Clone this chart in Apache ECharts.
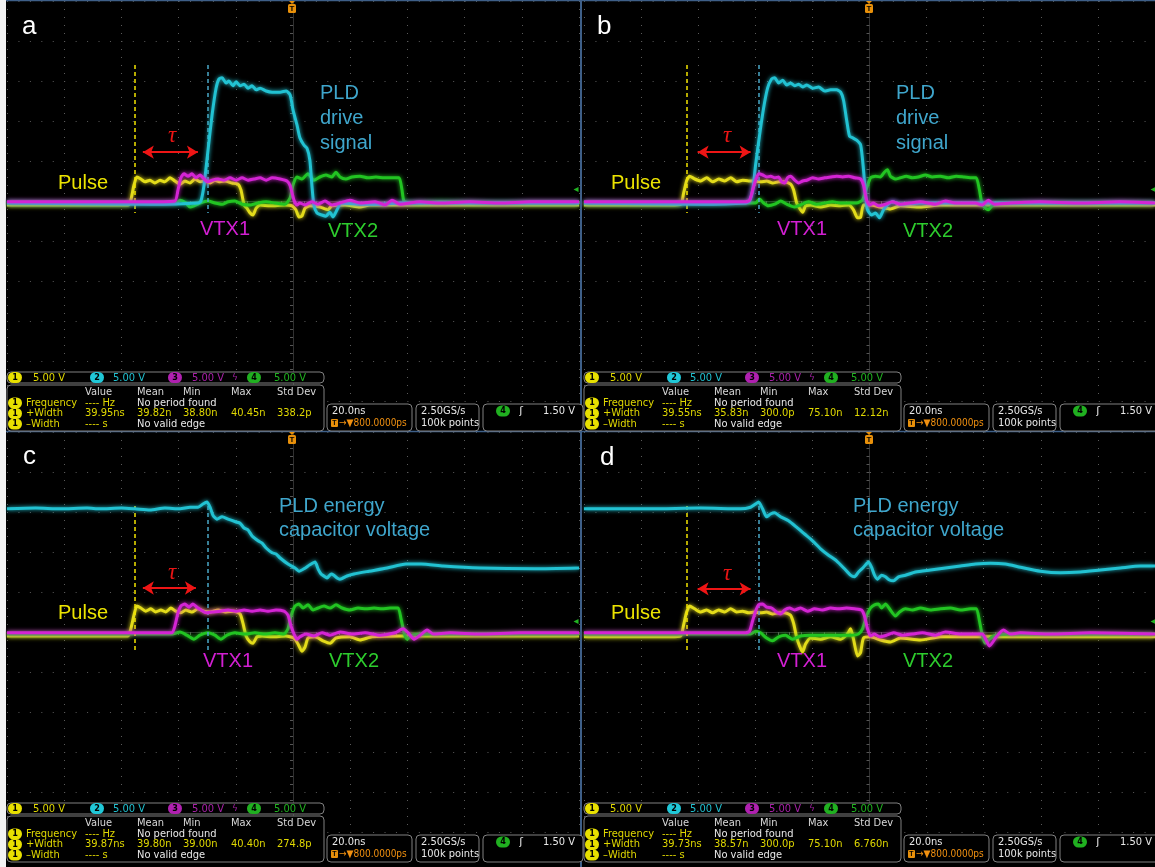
<!DOCTYPE html>
<html>
<head>
<meta charset="utf-8">
<script src="https://cdn.jsdelivr.net/npm/echarts@6/dist/echarts.min.js"></script>
<style>
html, body { margin: 0; padding: 0; background: #fff; }
#main { width: 1155px; height: 867px; }
</style>
</head>
<body>
<div id="main"></div>
<script>
// 4 scope captures, 20 ns/div, 5 V/div, [time ns, volt V]

// ---- a ----
var pulseA = [[-100,-0.5],[-81.5,-0.5],[-67.5,-0.5],[-57.7,-0.5],[-56.7,0.1],[-55.6,2.0],[-54.6,3.0],[-53.2,2.75],[-51.8,2.4],[-50.0,2.6],[-48.3,2.25],[-46.5,2.6],[-44.8,2.4],[-43.0,2.9],[-41.3,2.5],[-39.5,2.1],[-37.8,2.5],[-36.0,2.25],[-34.3,2.75],[-32.5,2.4],[-30.8,2.5],[-29.0,2.25],[-27.3,2.6],[-25.5,2.4],[-23.8,2.5],[-21.3,2.25],[-19.2,2.1],[-18.2,1.4],[-17.1,-0.5],[-16.1,-0.9],[-15.0,-1.5],[-14.0,-1.75],[-12.9,-0.9],[-11.5,-0.5],[-8.0,-0.6],[-2.8,-0.5],[-0.3,-0.6],[1.0,-1.1],[2.1,-2.0],[3.1,-1.9],[4.2,-0.9],[5.9,-0.6],[9.4,-0.75],[12.2,-1.1],[13.6,-0.6],[18.2,-0.5],[23.4,-0.75],[26.9,-0.5],[37.4,-0.5],[100,-0.5]];
var vtx1A = [[-100,-0.1],[-67.5,-0.1],[-50,-0.1],[-41.3,0],[-40.2,1.4],[-39.2,2.9],[-38.1,3.4],[-36.7,3.1],[-35.3,3.4],[-33.9,2.9],[-32.5,3.25],[-31.1,2.75],[-29.7,2.4],[-28.3,2.6],[-26.2,2.75],[-24.1,2.6],[-22.0,2.9],[-19.9,2.6],[-17.8,2.9],[-15.7,2.6],[-13.6,2.75],[-11.5,2.9],[-9.4,2.6],[-7.3,2.9],[-4.5,2.75],[-2.1,2.5],[-1.0,1.9],[0.35,0.1],[1.4,-0.5],[2.4,-0.25],[4.2,-0.5],[6.6,-0.1],[8.7,-0.4],[11.2,0],[13.6,-0.5],[16.4,-0.25],[19.9,0.1],[23.4,-0.25],[28.7,-0.1],[32.2,-0.5],[34.6,0.1],[37.4,-0.4],[44.4,-0.1],[51.4,-0.25],[61.9,-0.1],[72.4,-0.25],[82.9,-0.1],[100,-0.1]];
var vtx2A = [[-100,-0.25],[-40.9,-0.25],[-39.5,0.1],[-37.4,-0.25],[-36.0,-0.75],[-34.6,-0.6],[-32.5,-0.25],[-29.7,0],[-27.3,-0.25],[-24.8,-0.4],[-22.7,-0.1],[-20.3,0],[-17.8,-0.4],[-15.0,-0.5],[-12.2,-0.25],[-9.4,-0.1],[-6.3,-0.25],[-2.8,-0.4],[-1.0,0.4],[0,2.0],[1.4,3.0],[3.1,2.75],[5.2,3.4],[7.3,2.6],[9.4,3.0],[11.5,3.25],[13.6,3.0],[15.0,3.6],[16.4,3.0],[18.5,2.75],[20.6,3.0],[23.4,3.1],[26.2,2.9],[29.0,3.0],[31.8,2.9],[34.6,2.9],[37.1,2.9],[38.1,1.4],[38.8,0],[40.9,-0.25],[51.4,-0.1],[72.4,-0.25],[100,-0.25]];
var pldA = [[-100,-0.25],[-50,-0.4],[-33.2,-0.25],[-32.2,0],[-31.1,2.0],[-29.7,6.4],[-28.3,10.75],[-26.9,14.1],[-25.9,15.25],[-24.8,15.4],[-23.4,14.75],[-22.4,15.0],[-21.0,14.4],[-19.9,14.9],[-18.5,14.4],[-17.1,14.6],[-15.7,14.1],[-14.3,14.4],[-12.9,13.9],[-11.5,14.1],[-9.4,13.75],[-7.3,13.6],[-4.5,13.6],[-2.4,13.75],[-1.0,13.25],[0,11.4],[1.4,9.5],[2.4,7.9],[3.8,7.0],[4.9,6.6],[5.9,5.1],[6.6,2.0],[7.3,-0.5],[8.4,-1.5],[10.1,-1.75],[11.5,-1.9],[12.9,-1.4],[14.0,-2.0],[15.4,-1.1],[16.8,-0.25],[23.4,-0.4],[30.4,-0.4],[37.4,-0.25],[54.9,-0.25],[72.4,-0.25],[100,-0.25]];

// ---- b ----
var pulseB = [[-100,-0.5],[-69.7,-0.5],[-66.1,-0.4],[-65.1,1.0],[-64.0,2.6],[-63.0,3.1],[-61.2,2.75],[-59.1,2.5],[-57.0,2.9],[-54.9,2.4],[-52.8,2.75],[-50.7,2.5],[-48.6,2.9],[-46.5,2.4],[-44.4,2.6],[-42.3,2.5],[-40.2,2.5],[-38.1,2.4],[-36.0,2.5],[-33.9,2.25],[-31.8,2.4],[-29.7,2.4],[-27.6,2.1],[-26.6,1.4],[-25.5,-0.25],[-24.5,-0.9],[-23.4,-1.4],[-22.4,-0.6],[-20.6,-0.5],[-17.1,-0.75],[-13.6,-0.5],[-10.1,-0.6],[-7.3,-0.5],[-5.6,-1.1],[-4.2,-2.1],[-3.1,-2.0],[-2.1,-0.5],[0.35,-0.5],[3.8,-0.75],[7.3,-1.0],[10.8,-0.6],[17.8,-0.75],[24.8,-0.5],[45.8,-0.5],[100,-0.5]];
var vtx1B = [[-100,-0.1],[-59.1,-0.1],[-43.4,-0.1],[-42.0,0.1],[-40.9,1.4],[-39.9,2.6],[-38.8,3.4],[-37.4,3.25],[-36.0,3.0],[-34.6,3.1],[-33.2,2.9],[-31.8,3.0],[-30.8,2.4],[-29.7,2.25],[-28.7,2.9],[-27.6,3.1],[-26.2,2.6],[-24.8,2.25],[-23.4,2.5],[-22.0,2.6],[-19.9,2.9],[-17.8,2.75],[-15.7,2.9],[-13.6,3.0],[-11.5,3.1],[-9.4,3.0],[-7.3,3.1],[-5.2,2.9],[-3.1,2.75],[-2.1,2.0],[-1.0,0.1],[0,-0.5],[1.4,-0.25],[3.1,-0.6],[5.6,-0.4],[8.0,-0.1],[10.8,-0.4],[14.3,-0.25],[17.8,-0.1],[23.1,-0.4],[26.6,0],[30.1,-0.25],[37.1,-0.25],[39.5,-0.5],[41.6,0.1],[43.7,-0.4],[49.3,-0.25],[59.8,-0.1],[73.8,-0.25],[87.8,-0.1],[100,-0.25]];
var vtx2B = [[-100,-0.25],[-39.9,-0.25],[-38.5,0.25],[-37.1,-0.25],[-35.4,-0.6],[-33.2,-0.4],[-31.1,0],[-29.0,-0.4],[-26.2,-0.75],[-24.2,-0.5],[-21.4,-0.1],[-18.6,-0.4],[-15.7,-0.25],[-13.0,-0.1],[-10.1,-0.25],[-7.3,-0.25],[-4.5,-0.25],[-2.5,0.1],[-1.0,1.6],[0.35,2.9],[2.1,3.1],[3.8,3.0],[5.2,3.6],[6.3,3.9],[7.3,3.1],[9.1,2.75],[10.8,2.9],[12.9,3.1],[15.0,2.9],[17.1,3.0],[19.6,3.25],[22.0,3.0],[24.8,3.1],[27.6,2.9],[30.4,3.1],[33.2,3.0],[36.0,2.9],[37.4,2.9],[38.5,1.4],[39.2,0],[40.2,-0.75],[41.6,-1.1],[43.4,-0.4],[45.8,-0.25],[100,-0.25]];
var pldB = [[-100,-0.25],[-59.1,-0.4],[-43.4,-0.25],[-42.0,0],[-40.9,1.4],[-39.9,4.5],[-38.5,8.25],[-37.1,11.6],[-35.7,14.1],[-34.3,15.25],[-33.2,15.4],[-31.8,14.75],[-30.4,15.1],[-29.0,14.5],[-27.6,14.75],[-26.2,14.4],[-24.8,14.6],[-23.4,14.25],[-22.0,14.5],[-19.9,14.1],[-17.8,14.25],[-15.7,13.75],[-13.6,13.9],[-11.5,13.9],[-10.1,13.6],[-9.1,12.6],[-8.0,10.1],[-7.0,8.1],[-5.9,7.9],[-4.5,7.6],[-3.1,7.0],[-2.1,3.9],[-1.4,0.75],[-0.7,-1.1],[0.7,-1.75],[2.1,-1.5],[3.5,-2.1],[4.9,-1.1],[6.3,-0.5],[8.0,-0.1],[10.8,-0.4],[17.8,-0.25],[45.8,-0.25],[100,-0.25]];

// ---- c ----
var pulseC = [[-100,-0.5],[-67.5,-0.5],[-57.7,-0.5],[-56.7,0.4],[-55.6,2.1],[-54.6,3.25],[-53.2,3.0],[-51.5,2.6],[-49.7,2.9],[-48.0,2.5],[-46.2,2.75],[-44.5,2.5],[-42.7,3.0],[-41.0,2.6],[-39.2,2.4],[-37.5,2.75],[-35.4,2.5],[-33.2,2.9],[-31.2,2.6],[-29.0,2.5],[-26.2,2.75],[-23.5,2.5],[-20.7,2.6],[-18.5,2.25],[-17.5,1.1],[-16.4,-0.5],[-15.0,-1.25],[-14.0,-1.4],[-12.6,-0.6],[-10.8,-0.5],[-7.3,-0.6],[-2.5,-0.5],[0.35,-0.75],[1.75,-1.5],[3.1,-2.4],[4.2,-1.9],[5.25,-0.75],[7.7,-0.6],[10.5,-1.1],[13.0,-1.4],[15.0,-0.75],[19.9,-0.6],[23.4,-1.0],[27.6,-0.6],[37.4,-0.5],[100,-0.5]];
var vtx1C = [[-100,-0.1],[-67.5,-0.1],[-50,-0.1],[-42.3,-0.1],[-41.3,0.75],[-40.2,2.4],[-39.2,3.25],[-37.8,3.5],[-36.4,3.1],[-35.0,3.5],[-33.6,3.1],[-32.2,2.75],[-30.4,2.4],[-28.3,2.5],[-25.5,2.6],[-22.7,2.75],[-19.9,2.6],[-17.1,2.75],[-14.3,2.6],[-11.5,2.75],[-8.75,2.6],[-5.95,2.75],[-3.15,2.6],[-1.75,2.1],[-0.7,0.75],[0.35,-0.25],[1.4,-0.9],[2.45,-0.6],[4.55,-0.25],[7.35,-0.5],[10.15,-0.1],[12.95,-0.4],[16.45,0],[20.65,-0.25],[25.2,-0.1],[30.45,-0.4],[35.7,-0.1],[38.5,0.4],[40.25,-0.1],[42.35,-0.9],[44.45,-0.4],[46.9,0.25],[49.0,-0.25],[54.95,-0.1],[65.45,-0.25],[79.45,-0.1],[100,-0.1]];
var vtx2C = [[-100,-0.25],[-42.3,-0.25],[-39.5,0],[-37.1,-0.4],[-34.65,-0.9],[-32.55,-0.4],[-29.75,-0.1],[-27.3,-0.4],[-25.2,-0.9],[-23.1,-0.4],[-20.3,-0.1],[-16.8,-0.25],[-13.3,-0.1],[-9.8,-0.25],[-6.3,-0.1],[-3.15,-0.25],[-1.75,0.4],[-0.7,2.0],[0.7,3.25],[2.1,3.5],[3.5,3.0],[5.25,3.4],[7.0,2.75],[8.75,3.0],[10.85,3.25],[12.95,3.0],[15.05,3.4],[17.15,3.0],[19.95,2.75],[22.75,3.0],[25.55,2.9],[28.35,3.0],[31.15,2.9],[33.95,3.0],[36.75,3.0],[37.8,1.6],[38.85,-0.1],[39.9,-0.9],[41.3,-0.4],[47.95,-0.25],[72.45,-0.25],[100,-0.25]];
var pldC = [[-100,15.4],[-90,15.5],[-81.5,15.4],[-72,15.5],[-67.5,15.4],[-60,15.5],[-55.3,15.4],[-50.0,15.25],[-44.8,15.5],[-39.5,15.4],[-36.0,15.6],[-33.2,15.6],[-31.5,16.0],[-30.1,16.25],[-29.0,15.6],[-28.0,14.6],[-26.6,14.1],[-24.8,14.4],[-22.7,14.1],[-19.9,13.75],[-18.5,13.6],[-17.1,13.0],[-15.7,12.75],[-14.3,12.0],[-12.2,11.4],[-10.8,11.1],[-9.4,10.5],[-7.3,9.9],[-5.9,9.75],[-4.5,9.25],[-1.75,8.5],[0.7,8.0],[2.1,7.6],[3.8,7.9],[5.9,8.4],[7.7,8.75],[8.75,7.9],[9.8,7.25],[10.8,7.0],[11.9,6.75],[13.3,7.25],[14.3,7.1],[15.4,6.75],[16.4,6.6],[18.9,7.0],[21.3,7.25],[26.6,7.6],[32.9,8.0],[39.5,8.5],[44.8,8.5],[52.5,8.25],[65.4,8.0],[84.7,7.9],[100,8.0]];

// ---- d ----
var pulseD = [[-100,-0.6],[-69.65,-0.6],[-66.15,-0.5],[-65.1,0.9],[-64.05,2.5],[-63.0,3.25],[-61.25,2.9],[-59.15,2.5],[-57.05,2.75],[-54.95,2.4],[-52.85,2.75],[-50.75,2.5],[-48.65,2.9],[-46.55,2.5],[-44.45,2.6],[-42.35,2.4],[-40.25,2.5],[-38.15,2.4],[-36.05,2.5],[-33.95,2.25],[-31.85,2.4],[-29.75,2.4],[-27.65,2.1],[-26.6,1.1],[-25.55,-0.6],[-24.5,-1.75],[-23.45,-2.5],[-22.4,-1.5],[-20.65,-0.75],[-17.15,-0.9],[-13.65,-0.6],[-10.15,-0.9],[-7.7,-0.25],[-6.65,0.4],[-5.6,-0.9],[-4.2,-3.0],[-3.15,-2.6],[-2.1,-0.75],[0.35,-0.6],[3.85,-1.0],[7.35,-1.25],[10.85,-0.75],[17.85,-1.0],[24.85,-0.6],[45.85,-0.6],[100,-0.6]];
var vtx1D = [[-100,-0.1],[-59.15,-0.1],[-43.4,-0.1],[-42.0,0.1],[-40.95,1.4],[-39.9,2.6],[-38.85,3.4],[-37.45,3.5],[-36.05,3.1],[-34.3,3.0],[-32.55,2.5],[-31.15,2.25],[-29.75,2.75],[-28.0,3.0],[-26.25,2.75],[-24.15,3.0],[-21.7,2.6],[-19.25,2.9],[-16.45,2.75],[-13.65,3.0],[-10.85,2.9],[-8.05,3.0],[-5.25,2.9],[-2.8,2.75],[-1.75,2.0],[-0.7,0.4],[0.35,-0.5],[1.75,-0.25],[3.5,-0.6],[5.95,-0.4],[8.4,-0.1],[11.55,-0.4],[15.05,-0.25],[18.55,-0.1],[23.1,-0.4],[26.6,0],[31.85,-0.25],[37.1,-0.25],[39.55,-0.25],[42.0,-1.75],[44.45,-0.6],[46.9,0.25],[49.35,-0.25],[52.85,-0.1],[63.35,-0.25],[77.35,-0.1],[100,-0.25]];
var vtx2D = [[-100,-0.25],[-41.65,-0.25],[-39.9,0.1],[-38.15,-0.1],[-36.05,-0.75],[-33.95,-1.1],[-31.85,-0.6],[-29.4,-0.4],[-26.95,-0.9],[-24.15,-0.5],[-20.65,-0.4],[-17.15,-0.4],[-13.65,-0.4],[-10.15,-0.4],[-6.65,-0.4],[-3.85,-0.25],[-2.45,0.4],[-1.05,2.0],[0.35,3.0],[1.75,3.4],[3.15,3.5],[4.2,3.0],[5.6,3.5],[7.0,2.9],[9.1,2.0],[10.5,2.5],[12.6,2.9],[15.05,2.75],[17.85,3.0],[21.35,2.75],[24.85,2.9],[28.35,3.0],[31.85,2.75],[35.35,2.9],[37.45,2.9],[38.5,1.4],[39.55,-0.5],[40.6,-1.4],[42.0,-0.9],[44.1,-0.4],[49.35,-0.25],[100,-0.25]];
var pldD = [[-100,15.4],[-76.65,15.4],[-59.15,15.5],[-45.15,15.4],[-41.65,15.6],[-39.9,16.0],[-38.85,16.25],[-37.45,15.4],[-36.05,14.4],[-34.65,14.75],[-33.25,14.9],[-31.15,14.4],[-28.35,13.9],[-25.55,13.1],[-22.75,12.25],[-19.95,11.4],[-17.15,10.4],[-14.35,9.6],[-11.55,8.9],[-8.75,7.9],[-6.65,7.1],[-5.25,6.9],[-3.85,7.5],[-2.1,8.1],[-0.35,8.75],[0.7,8.1],[1.75,7.1],[2.8,6.6],[4.2,7.1],[5.6,6.9],[7.0,6.5],[8.4,6.4],[10.15,6.9],[12.6,7.1],[16.1,7.5],[21.35,7.75],[26.6,8.0],[31.85,8.25],[37.1,8.5],[42.35,8.6],[47.6,8.5],[52.85,8.1],[59.85,7.6],[66.85,7.4],[73.85,7.5],[80.85,7.75],[87.85,8.0],[94.85,8.25],[100,8.25]];

// cursor times (ns): pulse edge, PLD edge, and tau arrow ends
var cursorT = { a: [-55.2, -29.7], b: [-64.05, -38.85], c: [-55.2, -29.7], d: [-64.05, -38.85] };
var tauT = { a: [-52.5, -33.25], b: [-60.2, -41.65], c: [-52.5, -33.95], d: [-60.2, -41.65] };
var tauV = { a: 6.1, b: 6.1, c: 5.5, d: 5.4 };
var cursorV = { a: [17, -1.5], b: [17, -1.5], c: [15.75, -2.6], d: [15.75, -2.6] };

var measHeads = ['Value', 'Mean', 'Min', 'Max', 'Std Dev'];
var widthStats = {
	a: ['39.95ns', '39.82n', '38.80n', '40.45n', '338.2p'],
	b: ['39.55ns', '35.83n', '300.0p', '75.10n', '12.12n'],
	c: ['39.87ns', '39.80n', '39.00n', '40.40n', '274.8p'],
	d: ['39.73ns', '38.57n', '300.0p', '75.10n', '6.760n']
};

var YEL = '#e3dc1a', CYA = '#22c2d2', MAG = '#d424d4', GRN = '#22c422';
var panels = ['a', 'b', 'c', 'd'];
var origin = { a: [0, 0], b: [577, 0], c: [0, 431], d: [577, 431] };
var traces = {
	a: [pulseA, vtx2A, pldA, vtx1A], b: [pulseB, vtx2B, pldB, vtx1B],
	c: [pulseC, vtx2C, pldC, vtx1C], d: [pulseD, vtx2D, pldD, vtx1D]
};
var traceColors = [YEL, GRN, CYA, MAG];

var myChart = echarts.init(document.getElementById('main'));

var grids = [], xAxes = [], yAxes = [], series = [];
panels.forEach(function (p, i) {
	var o = origin[p];
	grids.push({ left: 7 + o[0], top: 1 + o[1], width: 572, height: 400, show: false });
	xAxes.push({
		type: 'value', gridIndex: i, min: -100, max: 100, interval: 20,
		axisLabel: { show: false },
		axisLine: { show: true, onZero: true, lineStyle: { color: '#303030' } },
		axisTick: { show: true, length: 3, lineStyle: { color: '#555' } },
		minorTick: { show: true, splitNumber: 5, length: 3, lineStyle: { color: '#555' } },
		splitLine: { show: true, lineStyle: { color: '#5a5a5a', type: [1, 7] } }
	});
	yAxes.push({
		type: 'value', gridIndex: i, min: -25, max: 25, interval: 5,
		axisLabel: { show: false },
		axisLine: { show: true, onZero: true, lineStyle: { color: '#303030' } },
		axisTick: { show: true, length: 3, lineStyle: { color: '#555' } },
		minorTick: { show: true, splitNumber: 5, length: 3, lineStyle: { color: '#555' } },
		splitLine: { show: true, lineStyle: { color: '#5a5a5a', type: [1, 10.44] } }
	});
	traces[p].forEach(function (d, k) {
		var s = {
			type: 'line', xAxisIndex: i, yAxisIndex: i, data: d,
			symbol: 'none', smooth: 0.2, silent: true, z: 3 + k,
			lineStyle: { color: traceColors[k], width: 3, shadowColor: traceColors[k], shadowBlur: 4 }
		};
		if (k === 0) {
			s.markLine = {
				silent: true, symbol: 'none', animation: false, label: { show: false },
				data: [
					[{ coord: [cursorT[p][0], cursorV[p][0]], lineStyle: { color: '#f2e400', type: [4, 3], width: 1.5 } }, { coord: [cursorT[p][0], cursorV[p][1]] }],
					[{ coord: [cursorT[p][1], cursorV[p][0]], lineStyle: { color: '#4aa8c8', type: [4, 3], width: 1.5 } }, { coord: [cursorT[p][1], cursorV[p][1]] }]
				]
			};
		}
		if (k === 1) {
			s.markLine = {
				silent: true, symbol: ['arrow', 'arrow'], symbolSize: [10, 11], animation: false,
				label: { show: false }, lineStyle: { color: '#ee1515', width: 2, type: 'solid' },
				data: [[{ coord: [tauT[p][0], tauV[p]] }, { coord: [tauT[p][1], tauV[p]] }]]
			};
		}
		series.push(s);
	});
});

// ---- texts and scope status bars ----
var SF = '11px "Liberation Sans Narrow", "DejaVu Sans Condensed", "Arial Narrow", sans-serif';
var AF = '"Liberation Sans", Arial, sans-serif';
var els = [];
function txt(x, y, s, c, font, align) {
	els.push({ type: 'text', x: x, y: y, z: 100, silent: true,
		style: { text: s, fill: c, font: font || SF, align: align || 'left', textAlign: align || 'left', verticalAlign: 'middle', textVerticalAlign: 'middle' } });
}
function box(x, y, w, h) {
	els.push({ type: 'rect', z: 99, silent: true, shape: { x: x, y: y, width: w, height: h, r: 4 }, style: { fill: '#000', stroke: '#808080', lineWidth: 1 } });
}
function badge(x, y, n, c) {
	els.push({ type: 'rect', z: 100, silent: true, shape: { x: x - 7, y: y - 5.5, width: 14, height: 11, r: 5.5 }, style: { fill: c } });
	txt(x, y, n, '#000', 'bold 9px "DejaVu Sans Condensed", sans-serif', 'center');
}

els.push({ type: 'rect', z: 1, silent: true, shape: { x: 0, y: 0, width: 6, height: 867 }, style: { fill: '#f2f2f2' } });
els.push({ type: 'line', z: 98, silent: true, shape: { x1: 581, y1: 0, x2: 581, y2: 867 }, style: { stroke: '#3e5f88', lineWidth: 2 } });
els.push({ type: 'line', z: 98, silent: true, shape: { x1: 6, y1: 0.5, x2: 1155, y2: 0.5 }, style: { stroke: '#3e5f88', lineWidth: 1.5 } });
els.push({ type: 'line', z: 98, silent: true, shape: { x1: 6, y1: 431.5, x2: 1155, y2: 431.5 }, style: { stroke: '#3e5f88', lineWidth: 1.5 } });

panels.forEach(function (p) {
	var ox = origin[p][0], oy = origin[p][1], v = widthStats[p];
	// trigger position marker and trigger level
	els.push({ type: 'rect', z: 100, silent: true, shape: { x: ox + 288, y: oy + 4, width: 8, height: 9, r: 1.5 }, style: { fill: '#e8900a' } });
	txt(ox + 292, oy + 9, 'T', '#000', 'bold 8px sans-serif', 'center');
	els.push({ type: 'polygon', z: 100, silent: true, shape: { points: [[ox + 289, oy + 1], [ox + 295, oy + 1], [ox + 292, oy + 4]] }, style: { fill: '#e8900a' } });
	txt(ox + 576, oy + 189 + (oy ? 1 : 0), '◂', '#22b422', '10px "DejaVu Sans", sans-serif', 'center');

	// channel bar
	box(ox + 7, oy + 372, 317, 11);
	badge(ox + 15, oy + 377.5, '1', '#e8e000');
	txt(ox + 33, oy + 378, '5.00 V', '#e0d800');
	badge(ox + 97, oy + 377.5, '2', '#20c8d8');
	txt(ox + 113, oy + 378, '5.00 V', '#20c0d0');
	badge(ox + 175, oy + 377.5, '3', '#b020b0');
	txt(ox + 192, oy + 378, '5.00 V', '#a820a8');
	txt(ox + 235, oy + 378, 'ϟ', '#a020a0', '9px "DejaVu Sans", sans-serif', 'center');
	badge(ox + 254, oy + 377.5, '4', '#20b020');
	txt(ox + 274, oy + 378, '5.00 V', '#20b420');

	// measurement table
	box(ox + 7, oy + 385, 317, 46);
	var cols = [85, 137, 183, 231, 277];
	measHeads.forEach(function (h, j) { txt(ox + cols[j], oy + 392, h, '#d8d8d8'); });
	badge(ox + 15, oy + 403, '1', '#e8e000');
	badge(ox + 15, oy + 413.5, '1', '#e8e000');
	badge(ox + 15, oy + 424, '1', '#e8e000');
	txt(ox + 26, oy + 403, 'Frequency', '#e0d800');
	txt(ox + 26, oy + 413.5, '+Width', '#e0d800');
	txt(ox + 26, oy + 424, '\u2013Width', '#e0d800');
	txt(ox + 85, oy + 403, '---- Hz', '#e0d800');
	txt(ox + 137, oy + 403, 'No period found', '#e8e8e8');
	v.forEach(function (s, j) { txt(ox + cols[j], oy + 413.5, s, '#e0d800'); });
	txt(ox + 85, oy + 424, '---- s', '#e0d800');
	txt(ox + 137, oy + 424, 'No valid edge', '#e8e8e8');

	// timebase, sample rate, trigger
	box(ox + 327, oy + 404, 85, 27);
	txt(ox + 332, oy + 411, '20.0ns', '#e8e8e8');
	els.push({ type: 'rect', z: 100, silent: true, shape: { x: ox + 331, y: oy + 419, width: 7, height: 8, r: 1 }, style: { fill: '#e8900a' } });
	txt(ox + 334.5, oy + 423.5, 'T', '#000', 'bold 7px sans-serif', 'center');
	txt(ox + 339, oy + 423, '\u2192\u25BC800.0000ps', '#f09010', '10px "Liberation Sans Narrow", "DejaVu Sans Condensed", sans-serif');
	box(ox + 416, oy + 404, 63, 27);
	txt(ox + 421, oy + 411, '2.50GS/s', '#e8e8e8');
	txt(ox + 421, oy + 423, '100k points', '#e8e8e8');
	box(ox + 483, oy + 404, 100, 27);
	badge(ox + 503, oy + 411, '4', '#20b020');
	txt(ox + 521, oy + 411, '\u0283', '#e8e8e8', '11px "DejaVu Sans", sans-serif', 'center');
	txt(ox + 575, oy + 411, '1.50 V', '#e8e8e8', SF, 'right');
});

// annotations
var LBL = '20px ' + AF;
[['a', 22, 27], ['b', 597, 27], ['c', 23, 457], ['d', 600, 458]].forEach(function (l) {
	txt(l[1], l[2], l[0], '#ffffff', '26px ' + AF);
});
[[58, 183], [611, 183], [58, 613], [611, 613]].forEach(function (q) { txt(q[0], q[1], 'Pulse', '#ece400', LBL); });
[[200, 229], [777, 229], [203, 661], [777, 661]].forEach(function (q) { txt(q[0], q[1], 'VTX1', '#d21fd2', LBL); });
[[328, 231], [903, 231], [329, 661], [903, 661]].forEach(function (q) { txt(q[0], q[1], 'VTX2', '#2dcc2d', LBL); });
[[172, 136], [727, 136], [172, 573], [727, 574]].forEach(function (q) { txt(q[0], q[1], '\u03C4', '#e81414', 'italic 23px "Liberation Serif", serif', 'center'); });
[[320, 0], [896, 0]].forEach(function (q) {
	txt(q[0], 93, 'PLD', '#3fa6cc', LBL);
	txt(q[0], 118, 'drive', '#3fa6cc', LBL);
	txt(q[0], 143, 'signal', '#3fa6cc', LBL);
});
[[279, 0], [853, 0]].forEach(function (q) {
	txt(q[0], 506, 'PLD energy', '#3fa6cc', LBL);
	txt(q[0], 530, 'capacitor voltage', '#3fa6cc', LBL);
});

var option = {
	backgroundColor: '#000',
	animation: false,
	grid: grids,
	xAxis: xAxes,
	yAxis: yAxes,
	series: series,
	graphic: { elements: els }
};
myChart.setOption(option);
</script>
</body>
</html>
